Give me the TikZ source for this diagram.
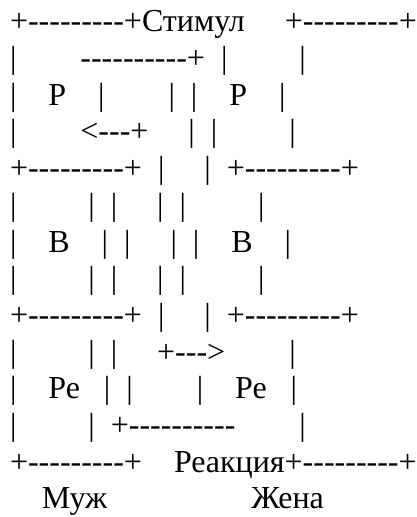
\documentclass[tikz,border=0pt]{standalone}
\usepackage{fontspec}
\setmainfont{Liberation Serif}
\newcommand\D{\hbox{-}}
\newcommand\DDD{\D\D\D}
\newcommand\Sp[1]{\hskip\dimexpr 6pt*#1\relax}
\newcommand\Bx{+\DDD\DDD\DDD+}
\begin{document}
\begin{tikzpicture}[x=0.75pt,y=-0.75pt,
  asciiline/.style={anchor=base west, inner sep=0pt, outer sep=0pt,
    font=\fontsize{24pt}{27.6pt}\selectfont, text=black}]
\useasboundingbox (0,0) rectangle (417,517);
\def\py{31.8}\def\pp{36.7}
\node[asciiline] (l1)  at (10,{\py+0*\pp})  {\Bx Стимул\Sp5\Bx};
\node[asciiline] (l2)  at (10,{\py+1*\pp})  {|\Sp8\DDD\DDD\DDD\D+\Sp2|\Sp9|};
\node[asciiline] (l3)  at (10,{\py+2*\pp})  {|\Sp4Р\Sp4|\Sp8|\Sp2|\Sp4Р\Sp4|};
\node[asciiline] (l4)  at (10,{\py+3*\pp})  {|\Sp8<\DDD+\Sp5|\Sp2|\Sp9|};
\node[asciiline] (l5)  at (10,{\py+4*\pp})  {\Bx\Sp2|\Sp5|\Sp2\Bx};
\node[asciiline] (l6)  at (10,{\py+5*\pp})  {|\Sp9|\Sp2|\Sp5|\Sp2|\Sp9|};
\node[asciiline] (l7)  at (10,{\py+6*\pp})  {|\Sp4В\Sp4|\Sp2|\Sp5|\Sp2|\Sp4В\Sp4|};
\node[asciiline] (l8)  at (10,{\py+7*\pp})  {|\Sp9|\Sp2|\Sp5|\Sp2|\Sp9|};
\node[asciiline] (l9)  at (10,{\py+8*\pp})  {\Bx\Sp2|\Sp5|\Sp2\Bx};
\node[asciiline] (l10) at (10,{\py+9*\pp})  {|\Sp9|\Sp2|\Sp5+\DDD>\Sp8|};
\node[asciiline] (l11) at (10,{\py+10*\pp}) {|\Sp4Ре\Sp3|\Sp2|\Sp8|\Sp4Ре\Sp3|};
\node[asciiline] (l12) at (10,{\py+11*\pp}) {|\Sp9|\Sp2+\DDD\DDD\DDD\D\Sp8|};
\node[asciiline] (l13) at (10,{\py+12*\pp}) {\Bx\Sp4Реакция\Bx};
\node[asciiline] (l14) at (10,{\py+13*\pp}) {\Sp4Муж\Sp{18}Жена};
\end{tikzpicture}
\end{document}
